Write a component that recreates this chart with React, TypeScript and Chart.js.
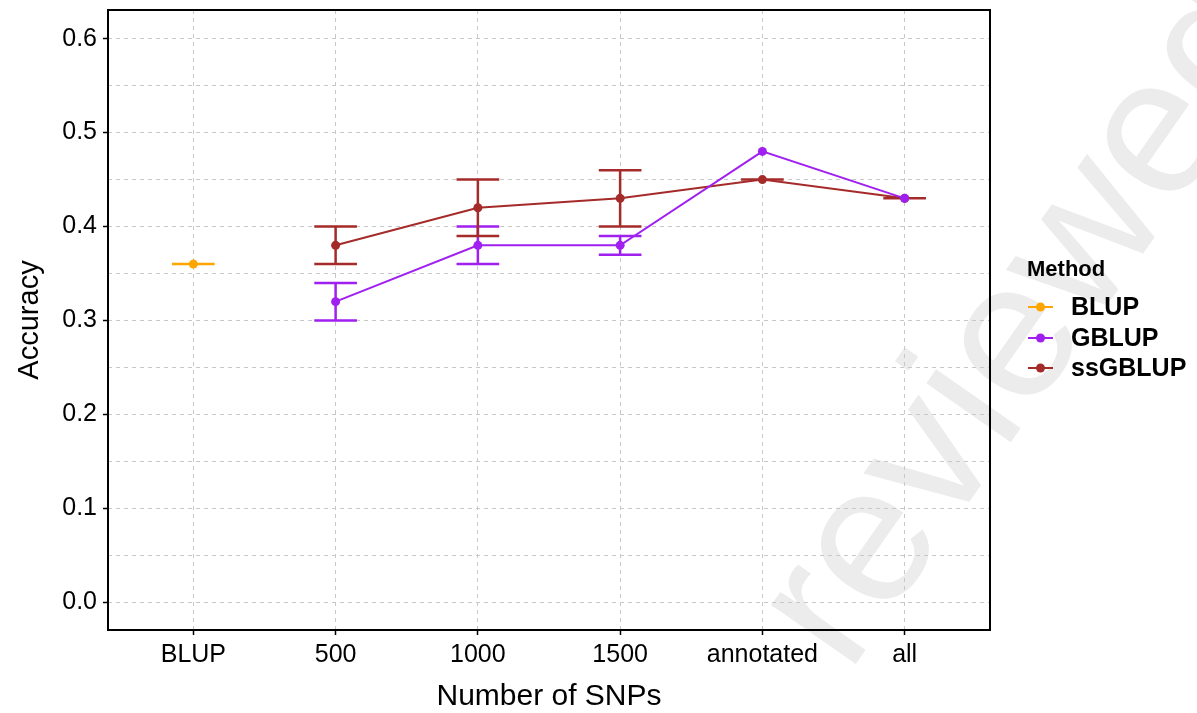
import React, { useEffect, useRef } from "react";
import { Chart, registerables } from "chart.js";

Chart.register(...registerables);

const categories = ["BLUP", "500", "1000", "1500", "annotated", "all"];
const methods = ["BLUP", "GBLUP", "ssGBLUP"];
const methodColors = ["#FFA500", "#A020F0", "#A52A2A"];

const blupPos = [1];
const blupMean = [0.36];
const blupLow = [0.36];
const blupHigh = [0.36];

const gblupPos = [2, 3, 4, 5, 6];
const gblupMean = [0.32, 0.38, 0.38, 0.48, 0.43];
const gblupLow = [0.3, 0.36, 0.37, null, null];
const gblupHigh = [0.34, 0.4, 0.39, null, null];

const ssPos = [2, 3, 4, 5, 6];
const ssMean = [0.38, 0.42, 0.43, 0.45, 0.43];
const ssLow = [0.36, 0.39, 0.4, 0.45, 0.43];
const ssHigh = [0.4, 0.45, 0.46, 0.45, 0.43];

const yTicks = [0, 0.05, 0.1, 0.15, 0.2, 0.25, 0.3, 0.35, 0.4, 0.45, 0.5, 0.55, 0.6];

const FONT = "'Liberation Sans', Arial, Helvetica, sans-serif";

const isMajor = (v: number) => Math.round(v * 100) % 10 === 0;

export default function App() {
  const ref = useRef<HTMLCanvasElement | null>(null);

  useEffect(() => {
    document.body.style.margin = "0";
    const canvas = ref.current;
    if (!canvas) return;

    const seriesPos = [blupPos, gblupPos, ssPos];
    const seriesMean = [blupMean, gblupMean, ssMean];
    const seriesLow = [blupLow, gblupLow, ssLow];
    const seriesHigh = [blupHigh, gblupHigh, ssHigh];

    const datasets = methods.map((m, i) => ({
      label: m,
      data: seriesPos[i].map((x, j) => ({ x, y: seriesMean[i][j] })),
      borderColor: methodColors[i],
      backgroundColor: methodColors[i],
      borderWidth: 2,
      pointRadius: 4.5,
      pointHoverRadius: 4.5,
      pointBorderWidth: 0,
      tension: 0,
      showLine: true,
    }));

    const watermark = {
      id: "watermark",
      beforeDraw(chart: any) {
        const ctx = chart.ctx;
        ctx.save();
        ctx.fillStyle = "#ffffff";
        ctx.fillRect(0, 0, chart.width, chart.height);
        ctx.translate(848, 675);
        ctx.rotate((-55 * Math.PI) / 180);
        ctx.font = `195px ${FONT}`;
        ctx.fillStyle = "#ececec";
        ctx.textAlign = "left";
        ctx.textBaseline = "alphabetic";
        ctx.fillText("reviewed", 0, 0);
        ctx.restore();
      },
    };

    const errorBars = {
      id: "errorBars",
      beforeDatasetsDraw(chart: any) {
        const ctx = chart.ctx;
        const xs = chart.scales.x;
        const ys = chart.scales.y;
        const half = (xs.getPixelForValue(1.15) - xs.getPixelForValue(0.85)) / 2;
        ctx.save();
        ctx.lineWidth = 2.5;
        ctx.lineCap = "butt";
        for (let i = 0; i < methods.length; i++) {
          ctx.strokeStyle = methodColors[i];
          seriesPos[i].forEach((p, j) => {
            const lo = seriesLow[i][j];
            const hi = seriesHigh[i][j];
            if (lo == null || hi == null) return;
            const px = xs.getPixelForValue(p);
            const pl = ys.getPixelForValue(lo);
            const ph = ys.getPixelForValue(hi);
            ctx.beginPath();
            ctx.moveTo(px, pl);
            ctx.lineTo(px, ph);
            ctx.moveTo(px - half, pl);
            ctx.lineTo(px + half, pl);
            ctx.moveTo(px - half, ph);
            ctx.lineTo(px + half, ph);
            ctx.stroke();
          });
        }
        ctx.restore();
      },
    };

    const frameAndLegend = {
      id: "frameAndLegend",
      afterDraw(chart: any) {
        const ctx = chart.ctx;
        const a = chart.chartArea;
        ctx.save();
        ctx.strokeStyle = "#000";
        ctx.lineWidth = 2;
        ctx.strokeRect(a.left, a.top, a.right - a.left, a.bottom - a.top);

        ctx.fillStyle = "#000";
        ctx.textBaseline = "middle";
        ctx.textAlign = "left";
        ctx.font = `bold 22px ${FONT}`;
        ctx.fillText("Method", 1027, 270);
        const rows = [307, 338, 368];
        ctx.font = `bold 25px ${FONT}`;
        methods.forEach((m, i) => {
          const y = rows[i];
          ctx.strokeStyle = methodColors[i];
          ctx.lineWidth = 2;
          ctx.beginPath();
          ctx.moveTo(1028, y);
          ctx.lineTo(1053, y);
          ctx.stroke();
          ctx.fillStyle = methodColors[i];
          ctx.beginPath();
          ctx.arc(1040.5, y, 4.5, 0, Math.PI * 2);
          ctx.fill();
          ctx.fillStyle = "#000";
          ctx.fillText(m, 1071, y + 1);
        });
        ctx.restore();
      },
    };

    const chart = new Chart(canvas, {
      type: "scatter",
      data: { datasets },
      plugins: [watermark, errorBars, frameAndLegend],
      options: {
        responsive: false,
        animation: false,
        events: [],
        layout: { padding: { left: 0, right: 207, top: 10, bottom: 0 } },
        plugins: {
          legend: { display: false },
          tooltip: { enabled: false },
        },
        scales: {
          x: {
            type: "linear",
            min: 0.4,
            max: 6.6,
            afterBuildTicks: (scale: any) => {
              scale.ticks = categories.map((_, i) => ({ value: i + 1 }));
            },
            afterFit: (scale: any) => {
              scale.height = 83;
              scale.paddingLeft = 0;
              scale.paddingRight = 0;
            },
            ticks: {
              autoSkip: false,
              maxRotation: 0,
              padding: 5,
              color: "#000",
              font: { family: FONT, size: 25 },
              callback: (v: any) => categories[Math.round(Number(v)) - 1] ?? "",
            },
            grid: {
              color: "#c8c8c8",
              lineWidth: 1,
              tickColor: "#000",
              tickLength: 5,
              tickWidth: 1.5,
            },
            border: { display: false, dash: [4, 4] },
            title: {
              display: true,
              text: "Number of SNPs",
              color: "#000",
              font: { family: FONT, size: 30, lineHeight: 1 },
              padding: { top: 0, bottom: 1 },
            },
          },
          y: {
            type: "linear",
            min: -0.0295,
            max: 0.6305,
            afterBuildTicks: (scale: any) => {
              scale.ticks = yTicks.map((v) => ({ value: v }));
            },
            afterFit: (scale: any) => {
              scale.width = 108;
              scale.paddingTop = 0;
              scale.paddingBottom = 0;
            },
            ticks: {
              autoSkip: false,
              padding: 6,
              color: "#000",
              font: { family: FONT, size: 25 },
              callback: (v: any) => (isMajor(Number(v)) ? Number(v).toFixed(1) : ""),
            },
            grid: {
              color: "#c8c8c8",
              lineWidth: 1,
              tickColor: (c: any) => (c.tick && isMajor(c.tick.value) ? "#000" : "rgba(0,0,0,0)"),
              tickLength: 5,
              tickWidth: 1.5,
            },
            border: { display: false, dash: [4, 4] },
            title: {
              display: true,
              text: "Accuracy",
              color: "#000",
              font: { family: FONT, size: 29 },
              padding: { top: 13, bottom: 0 },
            },
          },
        },
      },
    } as any);

    return () => chart.destroy();
  }, []);

  return (
    <div style={{ width: 1197, height: 713 }}>
      <canvas ref={ref} width={1197} height={713} style={{ display: "block", width: 1197, height: 713 }} />
    </div>
  );
}
